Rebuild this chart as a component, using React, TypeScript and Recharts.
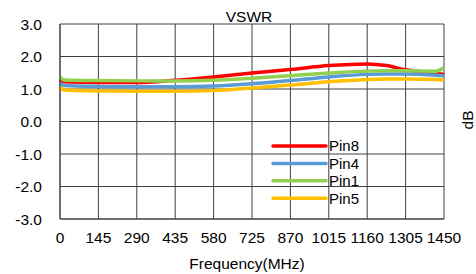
import React from 'react';
import { LineChart, Line, XAxis, YAxis, CartesianGrid } from 'recharts';

const freqs = [0, 15, 145, 290, 435, 580, 725, 870, 1015, 1160, 1232, 1305, 1420, 1450];
const pin8 = [1.30, 1.22, 1.20, 1.20, 1.27, 1.37, 1.49, 1.60, 1.72, 1.77, 1.72, 1.59, 1.48, 1.45];
const pin4 = [1.18, 1.11, 1.08, 1.07, 1.07, 1.09, 1.16, 1.26, 1.37, 1.45, 1.46, 1.46, 1.42, 1.40];
const pin1 = [1.37, 1.28, 1.26, 1.25, 1.25, 1.27, 1.33, 1.41, 1.49, 1.55, 1.56, 1.56, 1.55, 1.66];
const pin5 = [1.06, 0.97, 0.94, 0.93, 0.93, 0.95, 1.03, 1.12, 1.22, 1.29, 1.31, 1.31, 1.29, 1.28];

const xTicks = [0, 145, 290, 435, 580, 725, 870, 1015, 1160, 1305, 1450];
const yTicks = [-3, -2, -1, 0, 1, 2, 3];

const series = [
  { key: 'Pin8', values: pin8, color: '#FF0000' },
  { key: 'Pin4', values: pin4, color: '#5B9BD5' },
  { key: 'Pin1', values: pin1, color: '#92D050' },
  { key: 'Pin5', values: pin5, color: '#FFC000' },
];

const data = freqs.map((f, i) => {
  const row: Record<string, number> = { f };
  series.forEach((s) => { row[s.key] = s.values[i]; });
  return row;
});

const FONT = 'Liberation Sans, Arial, sans-serif';
const FS = 15.5;

const LegendBox = () => (
  <svg width={100} height={72} style={{ position: 'absolute', left: 271, top: 138, display: 'block' }}>
    {series.map((s, i) => (
      <g key={s.key}>
        <line x1={2} x2={55} y1={8 + i * 17.4} y2={8 + i * 17.4} stroke={s.color} strokeWidth={3.5} strokeLinecap="round" />
        <text x={58} y={8 + i * 17.4} dy="0.36em" fontSize={15} fontFamily={FONT} fill="#000">{s.key}</text>
      </g>
    ))}
  </svg>
);

export default function App() {
  return (
    <div style={{ position: 'absolute', left: 0, top: 0, width: 476, height: 274, background: '#fff', fontFamily: FONT }}>
      <LineChart width={476} height={274} data={data} margin={{ top: 24, right: 32, bottom: 10, left: 0 }}>
        <CartesianGrid stroke="#404040" strokeWidth={1} horizontal vertical />
        <XAxis
          dataKey="f"
          type="number"
          domain={[0, 1450]}
          ticks={xTicks}
          interval={0}
          height={45}
          tickSize={0}
          tickMargin={13}
          axisLine={{ stroke: '#404040' }}
          tick={{ fontSize: FS, fill: '#000', fontFamily: FONT }}
        />
        <YAxis
          type="number"
          domain={[-3, 3]}
          ticks={yTicks}
          interval={0}
          width={60}
          tickSize={0}
          tickMargin={18}
          axisLine={{ stroke: '#404040' }}
          tickFormatter={(v: number) => v.toFixed(1)}
          tick={{ fontSize: FS, fill: '#000', fontFamily: FONT }}
        />
        {series.map((s) => (
          <Line
            key={s.key}
            dataKey={s.key}
            type="monotone"
            stroke={s.color}
            strokeWidth={3.5}
            dot={false}
            activeDot={false}
            isAnimationActive={false}
          />
        ))}
        <text x={249} y={16} textAnchor="middle" dominantBaseline="central" fontSize={FS} fontFamily={FONT} fill="#000">VSWR</text>
        <text x={247} y={263} textAnchor="middle" dominantBaseline="central" fontSize={FS} fontFamily={FONT} fill="#000">Frequency(MHz)</text>
        <text x={467} y={120} textAnchor="middle" dominantBaseline="central" fontSize={FS} fontFamily={FONT} fill="#000" transform="rotate(-90 467 120)">dB</text>
      </LineChart>
      <LegendBox />
    </div>
  );
}
